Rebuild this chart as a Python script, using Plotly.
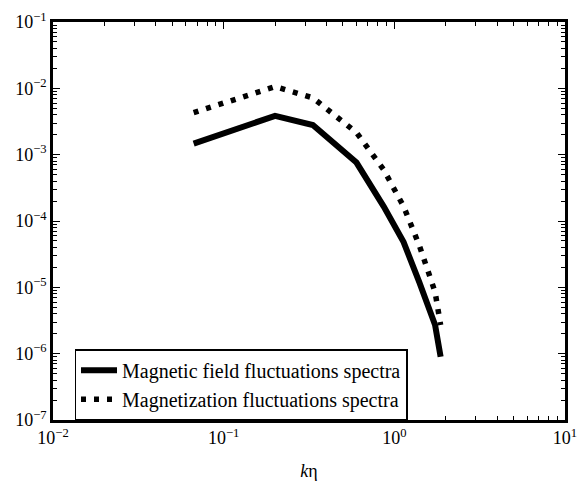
import plotly.graph_objects as go

# Data
k_eta = [0.0667, 0.2, 0.333, 0.6, 0.867, 1.133, 1.4, 1.733, 1.867]
magnetic_field = [1.47e-3, 3.85e-3, 2.8e-3, 7.6e-4, 1.65e-4, 4.8e-5, 1.2e-5, 2.7e-6, 9.0e-7]
magnetization = [4.3e-3, 1.06e-2, 7.2e-3, 2.15e-3, 5.9e-4, 1.66e-4, 4.3e-5, 8.5e-6, 2.7e-6]

series_names = ["Magnetic field fluctuations spectra", "Magnetization fluctuations spectra"]

x_tickvals = [1e-2, 1e-1, 1e0, 1e1]
x_ticktext = ["10<sup>−2</sup>", "10<sup>−1</sup>", "10<sup>0</sup>", "10<sup>1</sup>"]
y_tickvals = [1e-7, 1e-6, 1e-5, 1e-4, 1e-3, 1e-2, 1e-1]
y_ticktext = ["10<sup>−7</sup>", "10<sup>−6</sup>", "10<sup>−5</sup>", "10<sup>−4</sup>",
              "10<sup>−3</sup>", "10<sup>−2</sup>", "10<sup>−1</sup>"]
minor_digits = [2, 3, 4, 5, 6, 7, 8, 9]

x_minor = [d * v for v in x_tickvals[:-1] for d in minor_digits]
y_minor = [d * v for v in y_tickvals[:-1] for d in minor_digits]

FONT = "Liberation Serif, Times New Roman, serif"

fig = go.Figure()
fig.add_trace(go.Scatter(x=k_eta, y=magnetic_field, mode="lines", name=series_names[0],
                         line=dict(color="black", width=6)))
fig.add_trace(go.Scatter(x=k_eta, y=magnetization, mode="lines", name=series_names[1],
                         line=dict(color="black", width=5.5, dash="5px,8px")))

axis_common = dict(
    type="log", showline=True, linecolor="black", linewidth=2.5, mirror="allticks",
    ticks="inside", ticklen=7, tickwidth=1.2, tickcolor="black",
    showgrid=False, zeroline=False,
    tickfont=dict(family=FONT, size=18, color="black"),
)
minor_common = dict(type="log", showline=False, mirror="allticks", ticks="inside", ticklen=4,
                    tickwidth=1.2, tickcolor="black", showgrid=False, zeroline=False,
                    showticklabels=False, tickmode="array")

fig.update_layout(
    xaxis=dict(range=[-2, 1], tickvals=x_tickvals, ticktext=x_ticktext,
               title=dict(text="<i>k</i>η", font=dict(family=FONT, size=18, color="black"), standoff=18),
               **axis_common),
    yaxis=dict(range=[-7, -1], tickvals=y_tickvals, ticktext=y_ticktext, **axis_common),
    xaxis2=dict(range=[-2, 1], tickvals=x_minor, overlaying="x", anchor="y", side="bottom", **minor_common),
    yaxis2=dict(range=[-7, -1], tickvals=y_minor, overlaying="y", anchor="x", side="left", **minor_common),
)
# invisible helper trace so the minor-tick axes are drawn
fig.add_trace(go.Scatter(x=[x_tickvals[0]], y=[y_tickvals[0]], xaxis="x2", yaxis="y2",
                         mode="markers", marker=dict(opacity=0), showlegend=False, hoverinfo="skip"))

fig.update_layout(
    width=587, height=491,
    margin=dict(l=53, r=13, t=10, b=71),
    paper_bgcolor="white", plot_bgcolor="white",
    font=dict(family=FONT, size=18, color="black"),
    legend=dict(x=0.042, y=0.178, xanchor="left", yanchor="top",
                bgcolor="white", bordercolor="black", borderwidth=1.5,
                font=dict(family=FONT, size=20, color="black"),
                tracegroupgap=0, itemwidth=36),
    showlegend=True,
)

fig.write_html("out.html")
